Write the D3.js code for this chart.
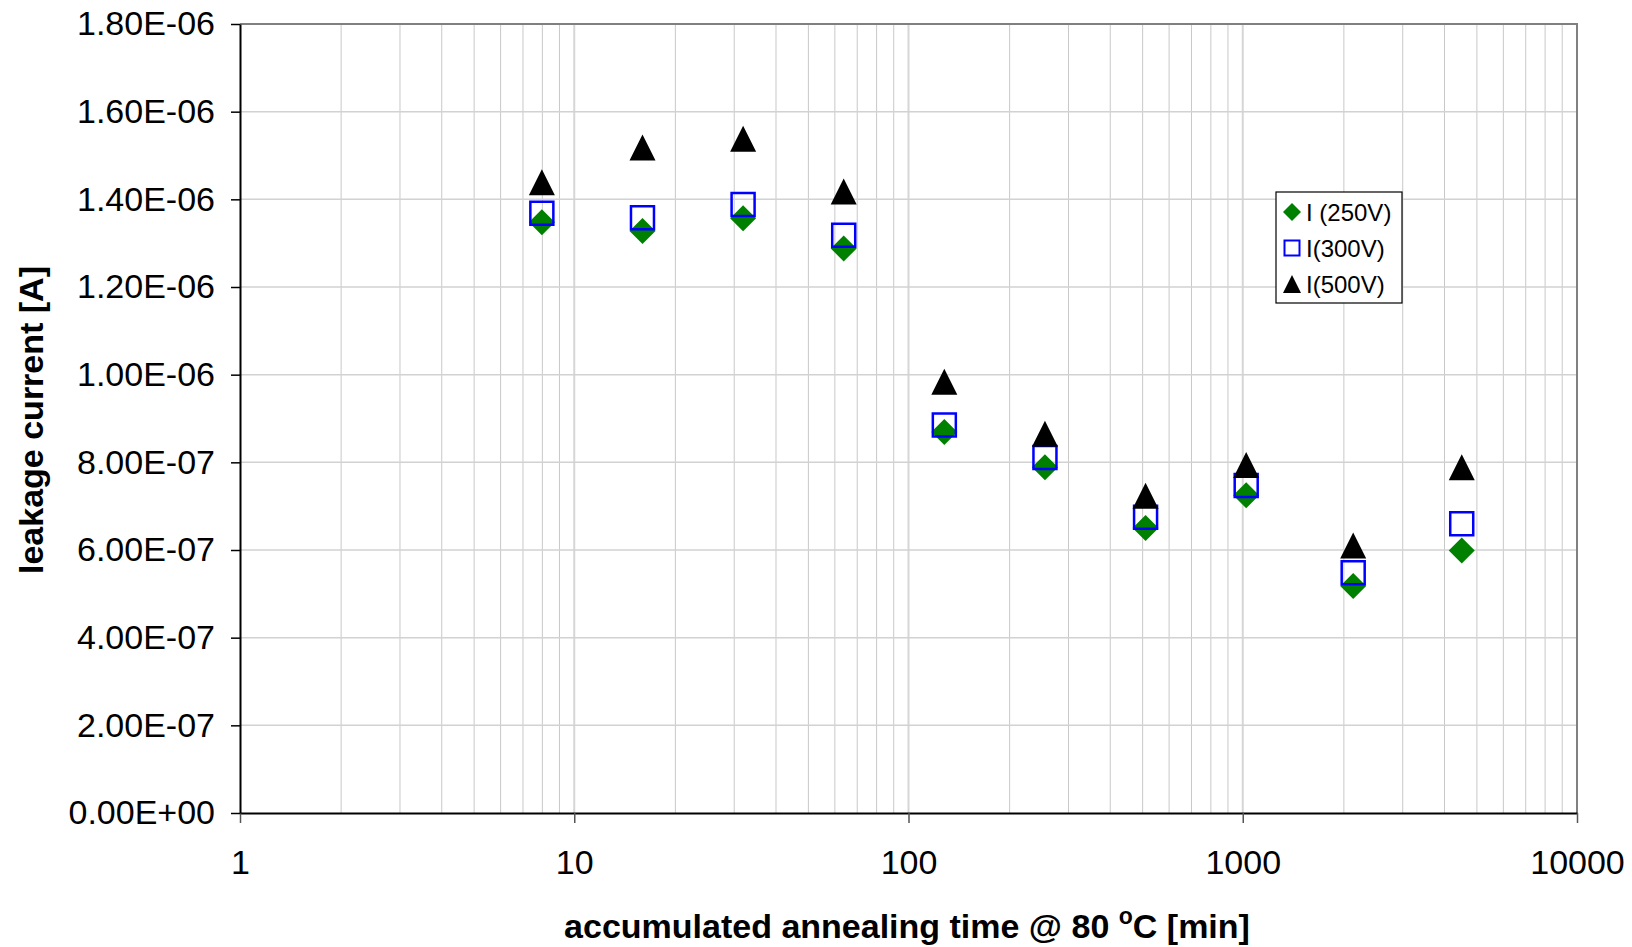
<!DOCTYPE html>
<html lang="en">
  <head>
    <meta charset="utf-8">
    <title>Leakage current vs annealing time</title>
    <script src="https://d3js.org/d3.v7.min.js"></script>
    <style>
      body { margin: 0; background: #fff; }
      svg { display: block; font-family: "Liberation Sans", Arial, sans-serif; }
    </style>
  </head>
  <body>
    <div id="container"></div>
    <script>
      width = 1632;
      height = 947;
      margin = ({top: 24, right: 55, bottom: 134, left: 240});

      // annealing steps [min]
      times = [8, 16, 32, 64, 128, 256, 512, 1024, 2140, 4520];
      // leakage current [A]
      i250 = [1.348e-6, 1.328e-6, 1.357e-6, 1.288e-6, 0.869e-6, 0.789e-6, 0.650e-6, 0.725e-6, 0.518e-6, 0.599e-6];
      i300 = [1.368e-6, 1.358e-6, 1.388e-6, 1.318e-6, 0.885e-6, 0.811e-6, 0.675e-6, 0.747e-6, 0.548e-6, 0.660e-6];
      i500 = [1.439e-6, 1.518e-6, 1.538e-6, 1.418e-6, 0.984e-6, 0.865e-6, 0.724e-6, 0.794e-6, 0.610e-6, 0.789e-6];
      seriesNames = ["I (250V)", "I(300V)", "I(500V)"];
      xTicks = [1, 10, 100, 1000, 10000];
      yTicks = d3.range(0, 10).map(i => i * 2e-7);

      x = d3.scaleLog()
        .domain([1, 10000])
        .range([margin.left, width - margin.right]);
      y = d3.scaleLinear()
        .domain([0, 1.8e-6])
        .range([height - margin.bottom, margin.top]);

      // Excel style 1.80E-06
      sci = v => {
        if (Math.abs(v) < 1e-15) return "0.00E+00";
        const [m, e] = v.toExponential(2).split("e");
        const n = +e;
        return m + "E" + (n < 0 ? "-" : "+") + String(Math.abs(n)).padStart(2, "0");
      };

      // Excel markers
      diamond = {draw(ctx, size) {
        const r = Math.sqrt(size) / 2;
        ctx.moveTo(0, -r); ctx.lineTo(r, 0); ctx.lineTo(0, r); ctx.lineTo(-r, 0); ctx.closePath();
      }};
      triangle = {draw(ctx, size) {
        const r = Math.sqrt(size) / 2;
        ctx.moveTo(0, -r); ctx.lineTo(r, r); ctx.lineTo(-r, r); ctx.closePath();
      }};

      series = [
        {name: seriesNames[0], values: i250, type: diamond, size: 26 * 26, fill: "#008000", stroke: "none"},
        {name: seriesNames[1], values: i300, type: d3.symbolSquare, size: 23 * 23, fill: "none", stroke: "#0000ff"},
        {name: seriesNames[2], values: i500, type: triangle, size: 26 * 26, fill: "#000", stroke: "none"}
      ];

      chart = (function() {
        const svg = d3.create("svg")
            .attr("width", width)
            .attr("height", height)
            .attr("viewBox", [0, 0, width, height]);

        // minor vertical grid
        const minor = [];
        for (let d = 1; d < 10000; d *= 10)
          for (let k = 2; k <= 9; k++) minor.push(d * k);

        svg.append("g")
            .attr("stroke", "#c8c8c8")
            .attr("stroke-width", 1)
          .selectAll("line")
          .data(minor)
          .join("line")
            .attr("x1", d => x(d) + 0.5)
            .attr("x2", d => x(d) + 0.5)
            .attr("y1", y(0))
            .attr("y2", y(1.8e-6));

        svg.append("g")
            .attr("stroke", "#d6d6d6")
            .attr("stroke-width", 2)
          .selectAll("line")
          .data(xTicks.slice(1, -1))
          .join("line")
            .attr("x1", d => x(d))
            .attr("x2", d => x(d))
            .attr("y1", y(0))
            .attr("y2", y(1.8e-6));

        svg.append("g")
            .attr("stroke", "#d2d2d2")
            .attr("stroke-width", 1.5)
          .selectAll("line")
          .data(yTicks.slice(1))
          .join("line")
            .attr("x1", margin.left)
            .attr("x2", width - margin.right)
            .attr("y1", d => y(d))
            .attr("y2", d => y(d));

        // plot frame top / right
        svg.append("path")
            .attr("fill", "none")
            .attr("stroke", "#808080")
            .attr("stroke-width", 2)
            .attr("d", `M${margin.left},${y(1.8e-6)}H${width - margin.right}V${y(0)}`);

        // axes
        svg.append("g")
            .attr("transform", `translate(0,${y(0)})`)
            .call(d3.axisBottom(x).tickValues(xTicks).tickFormat(d3.format("d")).tickSizeInner(10).tickSizeOuter(0).tickPadding(27))
            .call(g => g.selectAll(".tick line").attr("stroke", "#555").attr("stroke-width", 1.5))
            .call(g => g.select(".domain").attr("stroke", "#000").attr("stroke-width", 2))
            .call(g => g.selectAll("text").attr("font-size", 34).attr("fill", "#000")
              .attr("font-family", "Liberation Sans, Arial, sans-serif"));

        svg.append("g")
            .attr("transform", `translate(${margin.left},0)`)
            .call(d3.axisLeft(y).tickValues(yTicks).tickFormat(sci).tickSizeInner(9).tickSizeOuter(0).tickPadding(16))
            .call(g => g.selectAll(".tick line").attr("stroke", "#000").attr("stroke-width", 1.5))
            .call(g => g.select(".domain").attr("stroke", "#000").attr("stroke-width", 2))
            .call(g => g.selectAll("text").attr("font-size", 34).attr("fill", "#000")
              .attr("font-family", "Liberation Sans, Arial, sans-serif"));

        // markers
        series.forEach(s => {
          svg.append("g")
            .selectAll("path")
            .data(s.values)
            .join("path")
              .attr("transform", (d, i) => `translate(${x(times[i])},${y(d)})`)
              .attr("d", d3.symbol().type(s.type).size(s.size))
              .attr("fill", s.fill)
              .attr("stroke", s.stroke)
              .attr("stroke-width", 2.5);
        });

        // axis titles
        const xt = svg.append("text")
            .attr("x", 907)
            .attr("y", 938)
            .attr("text-anchor", "middle")
            .attr("font-size", 34)
            .attr("font-weight", "bold");
        xt.append("tspan").text("accumulated annealing time @ 80 ");
        xt.append("tspan").attr("font-size", 23).attr("dy", -14).text("o");
        xt.append("tspan").attr("dy", 14).text("C [min]");

        svg.append("text")
            .attr("transform", "translate(43,420) rotate(-90)")
            .attr("text-anchor", "middle")
            .attr("font-size", 34)
            .attr("font-weight", "bold")
            .text("leakage current [A]");

        // legend
        const lg = svg.append("g").attr("transform", "translate(1276,192)");
        lg.append("rect")
            .attr("width", 126)
            .attr("height", 111)
            .attr("fill", "#fff")
            .attr("stroke", "#000")
            .attr("stroke-width", 1.2);
        const row = lg.selectAll("g")
          .data(series)
          .join("g")
            .attr("transform", (d, i) => `translate(16,${20 + i * 36})`);
        row.append("path")
            .attr("d", s => d3.symbol().type(s.type).size(s.type === d3.symbolSquare ? 15 * 15 : 18 * 18)())
            .attr("fill", s => s.fill)
            .attr("stroke", s => s.stroke)
            .attr("stroke-width", 2);
        row.append("text")
            .attr("x", 14)
            .attr("dy", "0.36em")
            .attr("font-size", 24)
            .text(s => s.name);

        return svg.node();
      })();

      d3.select("#container").append(() => chart);
    </script>
  </body>
</html>
